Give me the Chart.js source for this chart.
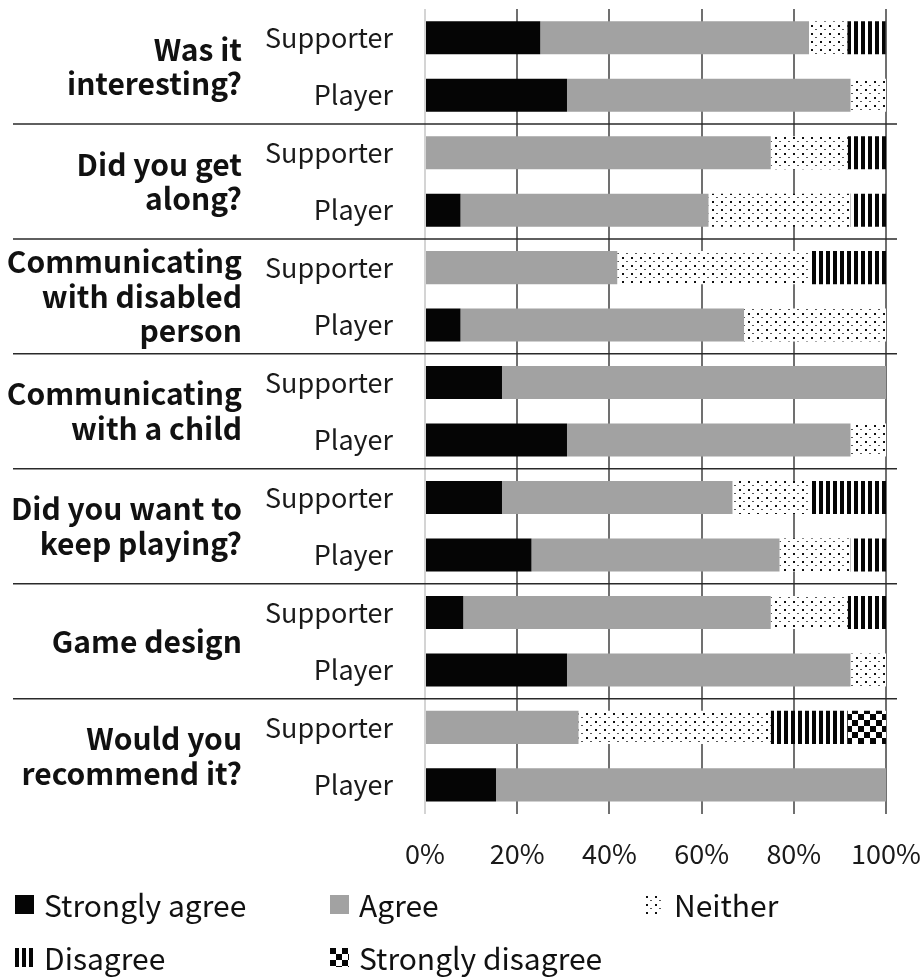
<!DOCTYPE html>
<html>
<head>
<meta charset="utf-8">
<script src="https://cdn.jsdelivr.net/npm/chart.js@4.4.0/dist/chart.umd.min.js"></script>
<style>
  body { margin: 0; background: #fff; font-family: "Noto Sans CJK JP", "Noto Sans", sans-serif; }
  #wrap { position: relative; width: 924px; height: 894px; }
  #legend { position: absolute; left: 0; top: 0; width: 924px; height: 977px; pointer-events: none; }
  .item { position: absolute; display: flex; align-items: center; font-size: 30px; color: #111; line-height: 1; transform: translateY(-50%); }
  .item canvas { margin-right: 10px; }
</style>
</head>
<body>
<div id="wrap"><canvas id="chart"></canvas></div>
<div id="legend"></div>
<script>
// --- data (percent of respondents) ---
const groups = ["Supporter", "Player"];
const questions = [
  ["Was it", "interesting?"],
  ["Did you get", "along?"],
  ["Communicating", "with disabled", "person"],
  ["Communicating", "with a child"],
  ["Did you want to", "keep playing?"],
  ["Game design"],
  ["Would you", "recommend it?"],
];
const categories = questions.flatMap(() => groups);
const xTicks = [0, 20, 40, 60, 80, 100];

const stronglyAgree    = [25.0, 30.8,  0.0,  7.7,  0.0,  7.7, 16.7, 30.8, 16.7, 23.1,  8.3, 30.8,  0.0, 15.4];
const agree            = [58.3, 61.5, 75.0, 53.8, 41.7, 61.5, 83.3, 61.5, 50.0, 53.8, 66.7, 61.5, 33.3, 84.6];
const neither          = [ 8.3,  7.7, 16.7, 30.8, 41.7, 30.8,  0.0,  7.7, 16.7, 15.4, 16.7,  7.7, 41.7,  0.0];
const disagree         = [ 8.3,  0.0,  8.3,  7.7, 16.7,  0.0,  0.0,  0.0, 16.7,  7.7,  8.3,  0.0, 16.7,  0.0];
const stronglyDisagree = [ 0.0,  0.0,  0.0,  0.0,  0.0,  0.0,  0.0,  0.0,  0.0,  0.0,  0.0,  0.0,  8.3,  0.0];

const seriesNames = ["Strongly agree", "Agree", "Neither", "Disagree", "Strongly disagree"];
const seriesValues = [stronglyAgree, agree, neither, disagree, stronglyDisagree];

const FONT = '"Noto Sans CJK JP", "Noto Sans", sans-serif';

// pattern tiles for the monochrome fills
const makeTile = (w, h, paint) => {
  const c = document.createElement("canvas");
  c.width = w;
  c.height = h;
  const g = c.getContext("2d");
  paint(g);
  return c;
};

const tiles = [
  makeTile(4, 4, (g) => { g.fillStyle = "#050505"; g.fillRect(0, 0, 4, 4); }),
  makeTile(4, 4, (g) => { g.fillStyle = "#a2a2a2"; g.fillRect(0, 0, 4, 4); }),
  makeTile(9, 8, (g) => {
    g.fillStyle = "#fff"; g.fillRect(0, 0, 9, 8);
    g.fillStyle = "#111"; g.fillRect(1, 1, 2, 2);
    g.fillStyle = "#555"; g.fillRect(5, 5, 2, 1);
  }),
  makeTile(7, 7, (g) => {
    g.fillStyle = "#fff"; g.fillRect(0, 0, 7, 7);
    g.fillStyle = "#050505"; g.fillRect(0, 0, 4, 7);
  }),
  makeTile(12, 12, (g) => {
    g.fillStyle = "#fff"; g.fillRect(0, 0, 12, 12);
    g.fillStyle = "#050505"; g.fillRect(0, 0, 6, 6); g.fillRect(6, 6, 6, 6);
  }),
];

const canvas = document.getElementById("chart");
const ctx = canvas.getContext("2d");
const fills = tiles.map((t) => ctx.createPattern(t, "repeat"));

const groupCenter = (scale, i) =>
  (scale.getPixelForValue(2 * i) + scale.getPixelForValue(2 * i + 1)) / 2;

const groupLabels = {
  id: "groupLabels",
  afterDraw(chart) {
    const y = chart.scales.y;
    const c = chart.ctx;
    c.save();
    // separators between questions
    c.strokeStyle = "#2a2a2a";
    c.lineWidth = 1.5;
    for (let i = 1; i < questions.length; i++) {
      const py = (y.getPixelForValue(2 * i - 1) + y.getPixelForValue(2 * i)) / 2;
      c.beginPath();
      c.moveTo(13, py);
      c.lineTo(897, py);
      c.stroke();
    }
    // question text
    c.fillStyle = "#111";
    c.font = `bold 30px ${FONT}`;
    c.textAlign = "right";
    c.textBaseline = "middle";
    const lh = 34.5;
    questions.forEach((lines, i) => {
      const cy = groupCenter(y, i);
      lines.forEach((line, k) => {
        c.fillText(line, 242, cy + (k - (lines.length - 1) / 2) * lh);
      });
    });
    c.restore();
  },
};

new Chart(canvas, {
  type: "bar",
  data: {
    labels: categories,
    datasets: seriesNames.map((name, i) => ({
      label: name,
      data: seriesValues[i],
      backgroundColor: fills[i],
      borderWidth: 0,
      barPercentage: 0.575,
      categoryPercentage: 1,
    })),
  },
  options: {
    indexAxis: "y",
    responsive: true,
    maintainAspectRatio: false,
    animation: false,
    layout: { padding: { top: 9, right: 38, bottom: 0, left: 0 } },
    plugins: { legend: { display: false }, tooltip: { enabled: false } },
    scales: {
      x: {
        stacked: true,
        min: 0,
        max: 100,
        afterBuildTicks: (scale) => { scale.ticks = xTicks.map((v) => ({ value: v })); },
        afterFit: (scale) => { scale.paddingLeft = 0; scale.paddingRight = 0; },
        ticks: {
          callback: (v) => `${v}%`,
          font: { family: FONT, size: 27 },
          color: "#1a1a1a",
          padding: 24,
        },
        grid: {
          color: (c) => (c.index === 0 ? "#d4d4d4" : "#707070"),
          lineWidth: 2,
          drawTicks: false,
        },
        border: { display: false },
      },
      y: {
        stacked: true,
        grid: { display: false, drawTicks: false },
        border: { display: false },
        ticks: {
          font: { family: FONT, size: 27 },
          color: "#1a1a1a",
          padding: 32,
        },
        afterFit: (scale) => {
          scale.width = 425;
          scale.paddingTop = 0;
          scale.paddingBottom = 0;
        },
      },
    },
  },
  plugins: [groupLabels],
});

// legend laid out in three columns under the axis
const legendSpots = [[15, 904], [330, 904], [645, 904], [15, 957], [330, 957]];
const legend = document.getElementById("legend");
seriesNames.forEach((name, i) => {
  const item = document.createElement("div");
  item.className = "item";
  item.style.left = legendSpots[i][0] + "px";
  item.style.top = legendSpots[i][1] + "px";
  const sw = document.createElement("canvas");
  sw.width = 19;
  sw.height = 19;
  const g = sw.getContext("2d");
  g.fillStyle = g.createPattern(tiles[i], "repeat");
  g.fillRect(0, 0, 19, 19);
  item.appendChild(sw);
  item.appendChild(document.createTextNode(name));
  legend.appendChild(item);
});
</script>
</body>
</html>
